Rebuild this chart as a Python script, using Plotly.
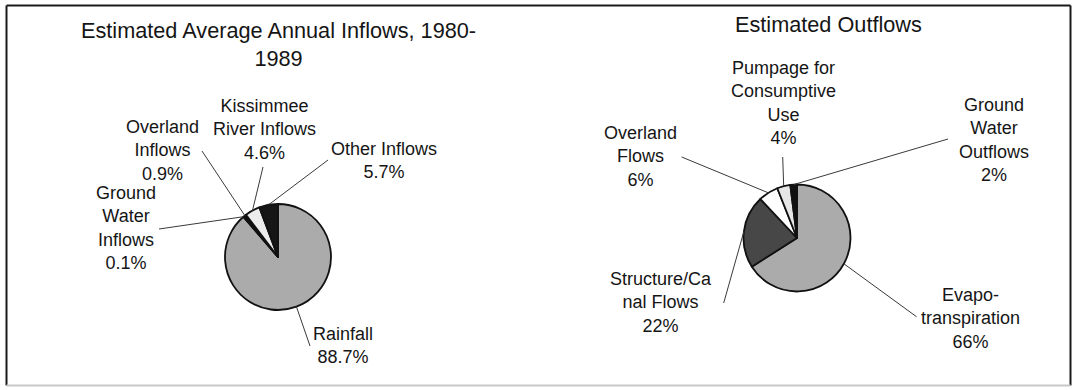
import math
import plotly.graph_objects as go

W, H = 1075, 390

# ---- data -------------------------------------------------------------
inflow_names = ["Rainfall", "Ground<br>Water<br>Inflows", "Overland<br>Inflows",
                "Kissimmee<br>River Inflows", "Other Inflows"]
inflow_pct = [88.7, 0.1, 0.9, 4.6, 5.7]

outflow_names = ["Evapo-<br>transpiration", "Structure/Ca<br>nal Flows", "Overland<br>Flows",
                 "Pumpage for<br>Consumptive<br>Use", "Ground<br>Water<br>Outflows"]
outflow_pct = [66, 22, 6, 4, 2]

inflow_title = "Estimated Average Annual Inflows, 1980-<br>1989"
outflow_title = "Estimated Outflows"

# ---- styling / layout (pixels) -----------------------------------------
inflow_colors = ["#ababab", "#111111", "#111111", "#ececec", "#161616"]
outflow_colors = ["#ababab", "#474747", "#ffffff", "#e6e6e6", "#111111"]

inflow_pie = dict(cx=278, cy=257, r=53)
outflow_pie = dict(cx=797, cy=238, r=53.5)

# label centre (x, y) and leader-line tail (x, y) for each slice
inflow_labels = [((343, 345), (310, 346)),
                 ((126, 227.5), (159, 229)),
                 ((162, 150.5), (202, 151)),
                 ((264, 129.5), (263, 167)),
                 ((384, 160), (328, 160))]
outflow_labels = [((970, 318.5), (916.5, 316.7)),
                  ((661, 302), (723.7, 303)),
                  ((640, 156.5), (681.7, 157)),
                  ((783, 102.6), (782.7, 157)),
                  ((994, 139.6), (948, 139))]

FONT = "Liberation Sans, Arial, Helvetica, sans-serif"
TXT = "#151515"


def px(x):
    return x / W


def py(y):
    return 1 - y / H


fig = go.Figure()
shapes = []
annotations = []


def add_pie(values, colors, pie, labels, names, fmt):
    cx, cy, r = pie["cx"], pie["cy"], pie["r"]
    fig.add_trace(go.Pie(
        values=values,
        labels=[n.replace("<br>", " ") for n in names],
        sort=False,
        direction="clockwise",
        rotation=0,
        textinfo="none",
        hoverinfo="label+percent",
        showlegend=False,
        marker=dict(colors=colors, line=dict(color="#111111", width=1.8)),
        domain=dict(x=[px(cx - r), px(cx + r)], y=[py(cy + r), py(cy - r)]),
    ))
    total = float(sum(values))
    cum = 0.0
    for v, name, ((lx, ly), (tx, ty)) in zip(values, names, labels):
        mid = (cum + v / 2) / total * 2 * math.pi
        cum += v
        ex = cx + r * math.sin(mid)
        ey = cy - r * math.cos(mid)
        shapes.append(dict(type="line", xref="paper", yref="paper",
                           x0=px(ex), y0=py(ey), x1=px(tx), y1=py(ty),
                           line=dict(color="#3a3a3a", width=1)))
        annotations.append(dict(
            x=px(lx), y=py(ly), xref="paper", yref="paper",
            xanchor="center", yanchor="middle", align="center",
            showarrow=False, text=f"{name}<br>{fmt.format(v)}",
            font=dict(family=FONT, size=18, color=TXT)))


add_pie(inflow_pct, inflow_colors, inflow_pie, inflow_labels, inflow_names, "{:.1f}%")
add_pie(outflow_pct, outflow_colors, outflow_pie, outflow_labels, outflow_names, "{:.0f}%")

# chart titles
annotations.append(dict(x=px(278), y=py(44), xref="paper", yref="paper",
                        xanchor="center", yanchor="middle", align="center",
                        showarrow=False, text=inflow_title,
                        font=dict(family=FONT, size=21.7, color=TXT)))
annotations.append(dict(x=px(828), y=py(24.5), xref="paper", yref="paper",
                        xanchor="center", yanchor="middle", align="center",
                        showarrow=False, text=outflow_title,
                        font=dict(family=FONT, size=21.7, color=TXT)))

# outer frame
frame = dict(left=6.5, right=1070.5, top=5.5, bottom=385.5)
for (x0, y0, x1, y1, col) in [
    (frame["left"], frame["top"], frame["right"], frame["top"], "#1a1a1a"),
    (frame["left"], frame["top"], frame["left"], frame["bottom"], "#1a1a1a"),
    (frame["right"], frame["top"], frame["right"], frame["bottom"], "#1a1a1a"),
    (frame["left"], frame["bottom"], frame["right"], frame["bottom"], "#c8c8c8"),
]:
    shapes.append(dict(type="line", xref="paper", yref="paper",
                       x0=px(x0), y0=py(y0), x1=px(x1), y1=py(y1),
                       line=dict(color=col, width=2)))

fig.update_layout(
    width=W, height=H,
    margin=dict(l=0, r=0, t=0, b=0),
    paper_bgcolor="white", plot_bgcolor="white",
    shapes=shapes, annotations=annotations,
)

fig.write_html("out.html")
